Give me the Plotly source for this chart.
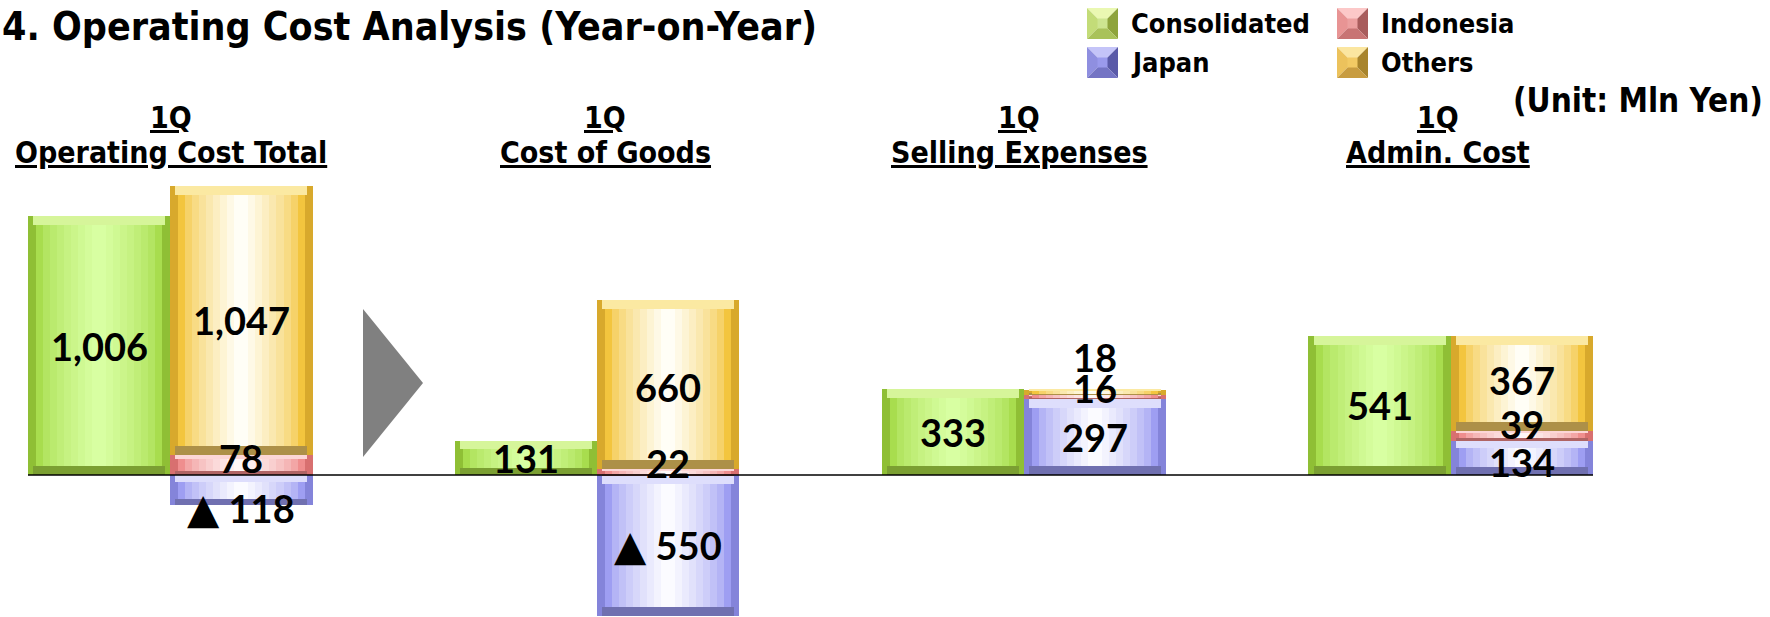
import plotly.graph_objects as go

# ---------------- data ----------------
period = "1Q"
categories = ["Operating Cost Total", "Cost of Goods", "Selling Expenses", "Admin. Cost"]
consolidated = [1006, 131, 333, 541]
japan = [-118, -550, 297, 134]
indonesia = [78, 22, 16, 39]
others = [1047, 660, 18, 367]
legend_order = ["Consolidated", "Indonesia", "Japan", "Others"]

# ---------------- geometry / style ----------------
W, H = 1770, 617
ML, MR, MT, MB = 28, 177, 160, 0
PW, PH = W - ML - MR, H - MT - MB
Y_TOP, Y_BOT = 1225.7, -552.5
UPP = (Y_TOP - Y_BOT) / PH  # data units per pixel

def px_x(px):
    return (px - ML) / PW

def px_y(py):
    return (H - MB - py) / PH

TXT_FONT = "DejaVu Sans Condensed, DejaVu Sans"
NUM_FONT = "Lato, Liberation Sans, sans-serif"

# side, top, bottom, face_edge, face_center
palettes = {
    "Consolidated": ["#8fbf35", "#d6f59a", "#7b9f32", "#a8dd4e", "#d8ffa2"],
    "Japan": ["#8484da", "#dedefc", "#7070b0", "#9e9ef2", "#fbfbff"],
    "Indonesia": ["#d87070", "#fcd6d6", "#b06464", "#ef8e8e", "#fff7f7"],
    "Others": ["#d8a92c", "#fbe9a2", "#ad9048", "#f3c53e", "#fffef6"],
}
N_FACE = 9
BEVEL_PX = 9
SIDE_PX = 8

legend_cols = {
    "Consolidated": ["#eaf8b2", "#c3dc78", "#8ea43c", "#a9c25a", "#cde590"],
    "Japan": ["#c4c4f8", "#8f8fe0", "#5a5aa8", "#7474c4", "#9a9aec"],
    "Indonesia": ["#fcc8c8", "#e89494", "#a85c5c", "#c87474", "#eca0a0"],
    "Others": ["#fbe6a0", "#ecc25c", "#a8842c", "#c89c40", "#f2ca64"],
}

# label nudges in pixels (up positive), keyed by (group, series)
nudges = {
    (0, "Indonesia"): 7, (0, "Japan"): -18,
    (1, "Indonesia"): 9, (1, "Others"): -2,
    (2, "Indonesia"): 9, (2, "Others"): 35,
    (3, "Indonesia"): 12, (3, "Japan"): -4, (3, "Others"): 3,
}
header_px = [171, 605, 1019, 1438]

def hex2rgb(h):
    h = h.lstrip("#")
    return [int(h[i:i + 2], 16) for i in (0, 2, 4)]

def mix(c1, c2, t):
    a, b = hex2rgb(c1), hex2rgb(c2)
    return "#" + "".join(f"{round(a[i] + (b[i] - a[i]) * t):02x}" for i in range(3))

# ---------------- build segments ----------------
segments = []  # (series, group, x, lo, hi, value)
for g in range(len(categories)):
    xc = 3 * g
    xs = 3 * g + 1
    segments.append(("Consolidated", g, xc, 0, consolidated[g], consolidated[g]))
    pos, neg = 0, 0
    for name, arr in (("Japan", japan), ("Indonesia", indonesia), ("Others", others)):
        v = arr[g]
        if v >= 0:
            lo, hi = pos, pos + v
            pos = hi
        else:
            lo, hi = neg + v, neg
            neg = lo
        segments.append((name, g, xs, lo, hi, v))

fig = go.Figure()
BAR_PX = PW / 11.0
side_frac = 1 - 2 * SIDE_PX / BAR_PX

def add_layer(segs, color, wfrac, mode):
    xs_, bases, heights = [], [], []
    for (_, g, x, lo, hi, v) in segs:
        h = hi - lo
        iv = min(BEVEL_PX * UPP, 0.22 * h)
        if mode == "full":
            b, hh = lo, h
        elif mode == "top":
            b, hh = hi - iv, iv
        elif mode == "bottom":
            b, hh = lo, iv
        else:
            b, hh = lo + iv, h - 2 * iv
        xs_.append(x)
        bases.append(b)
        heights.append(hh)
    fig.add_trace(go.Bar(
        x=xs_, y=heights, base=bases, width=[wfrac] * len(xs_),
        marker=dict(color=color, line=dict(width=0)),
        hoverinfo="skip", showlegend=False,
    ))

for name in ["Consolidated", "Japan", "Indonesia", "Others"]:
    segs = [s for s in segments if s[0] == name]
    p = palettes[name]
    add_layer(segs, p[0], 1.0, "full")
    add_layer(segs, p[1], side_frac + 0.04, "top")
    add_layer(segs, p[2], side_frac + 0.04, "bottom")
    for k in range(N_FACE):
        wf = side_frac * (1 - k / N_FACE)
        t = (k / (N_FACE - 1)) ** 0.7
        add_layer(segs, mix(p[3], p[4], t), wf, "face")

# ---------------- value labels ----------------
def fmt(v):
    if v < 0:
        return ("<span style='font-family:DejaVu Sans;font-size:42px'>▲</span> "
                + f"{abs(v):,}")
    return f"{v:,}"

for (name, g, x, lo, hi, v) in segments:
    fig.add_annotation(
        x=x, y=(lo + hi) / 2, xref="x", yref="y", text=fmt(v), showarrow=False,
        yshift=nudges.get((g, name), 0), xanchor="center", yanchor="middle",
        font=dict(family=NUM_FONT, size=38, color="#000000", weight="bold"),
    )

# ---------------- group headers ----------------
for g, cat in enumerate(categories):
    for text, py in ((period, 117), (cat, 152)):
        fig.add_annotation(
            x=px_x(header_px[g]), xref="paper", y=px_y(py), yref="paper",
            text=f"<u>{text}</u>", showarrow=False,
            xanchor="center", yanchor="middle", align="center",
            font=dict(family=TXT_FONT, size=30, color="#000000", weight="bold"),
        )

# ---------------- title, unit ----------------
fig.add_annotation(
    x=px_x(0), y=px_y(27), xref="paper", yref="paper", xanchor="left", yanchor="middle",
    text="4. Operating Cost Analysis (Year-on-Year)", showarrow=False,
    font=dict(family=TXT_FONT, size=39, color="#000000", weight="bold"),
)
fig.add_annotation(
    x=px_x(1765), y=px_y(100), xref="paper", yref="paper", xanchor="right", yanchor="middle",
    text="(Unit: Mln Yen)", showarrow=False,
    font=dict(family=TXT_FONT, size=33, color="#000000", weight="bold"),
)

# ---------------- legend (manual) ----------------
shapes = []

def poly(points, color):
    d = "M " + " L ".join(f"{px_x(a):.5f},{px_y(b):.5f}" for a, b in points) + " Z"
    return dict(type="path", path=d, xref="paper", yref="paper",
                fillcolor=color, line=dict(width=0), layer="above")

legend_pos = {"Consolidated": (1087, 8), "Indonesia": (1337, 8),
              "Japan": (1087, 47), "Others": (1337, 47)}
for name in legend_order:
    x0, y0 = legend_pos[name]
    x1, y1 = x0 + 31, y0 + 31
    cx, cy = (x0 + x1) / 2, (y0 + y1) / 2
    c = legend_cols[name]
    shapes.append(poly([(x0, y0), (x1, y0), (cx, cy)], c[0]))
    shapes.append(poly([(x0, y0), (x0, y1), (cx, cy)], c[1]))
    shapes.append(poly([(x1, y0), (x1, y1), (cx, cy)], c[2]))
    shapes.append(poly([(x0, y1), (x1, y1), (cx, cy)], c[3]))
    shapes.append(poly([(cx - 5, cy - 5), (cx + 5, cy - 5), (cx + 5, cy + 5), (cx - 5, cy + 5)], c[4]))
    fig.add_annotation(
        x=px_x(x1 + 11), y=px_y(cy), xref="paper", yref="paper", xanchor="left", yanchor="middle",
        text=name, showarrow=False,
        font=dict(family=TXT_FONT, size=27, color="#000000", weight="bold"),
    )

# gray arrow triangle
shapes.append(poly([(363, 309), (423, 383), (363, 457)], "#808080"))
# zero line
shapes.append(dict(type="line", xref="paper", yref="y", x0=0, x1=1, y0=0, y1=0,
                   line=dict(color="#000000", width=1.5), layer="above"))

fig.update_layout(
    width=W, height=H, autosize=False,
    margin=dict(l=ML, r=MR, t=MT, b=MB, pad=0),
    paper_bgcolor="#ffffff", plot_bgcolor="#ffffff",
    barmode="overlay", bargap=0,
    shapes=shapes, showlegend=False,
    xaxis=dict(range=[-0.5, 10.5], visible=False, fixedrange=True),
    yaxis=dict(range=[Y_BOT, Y_TOP], visible=False, fixedrange=True, zeroline=False),
)

fig.write_html("out.html", config={"displayModeBar": False},
               post_script="document.body.style.margin='0px';")
